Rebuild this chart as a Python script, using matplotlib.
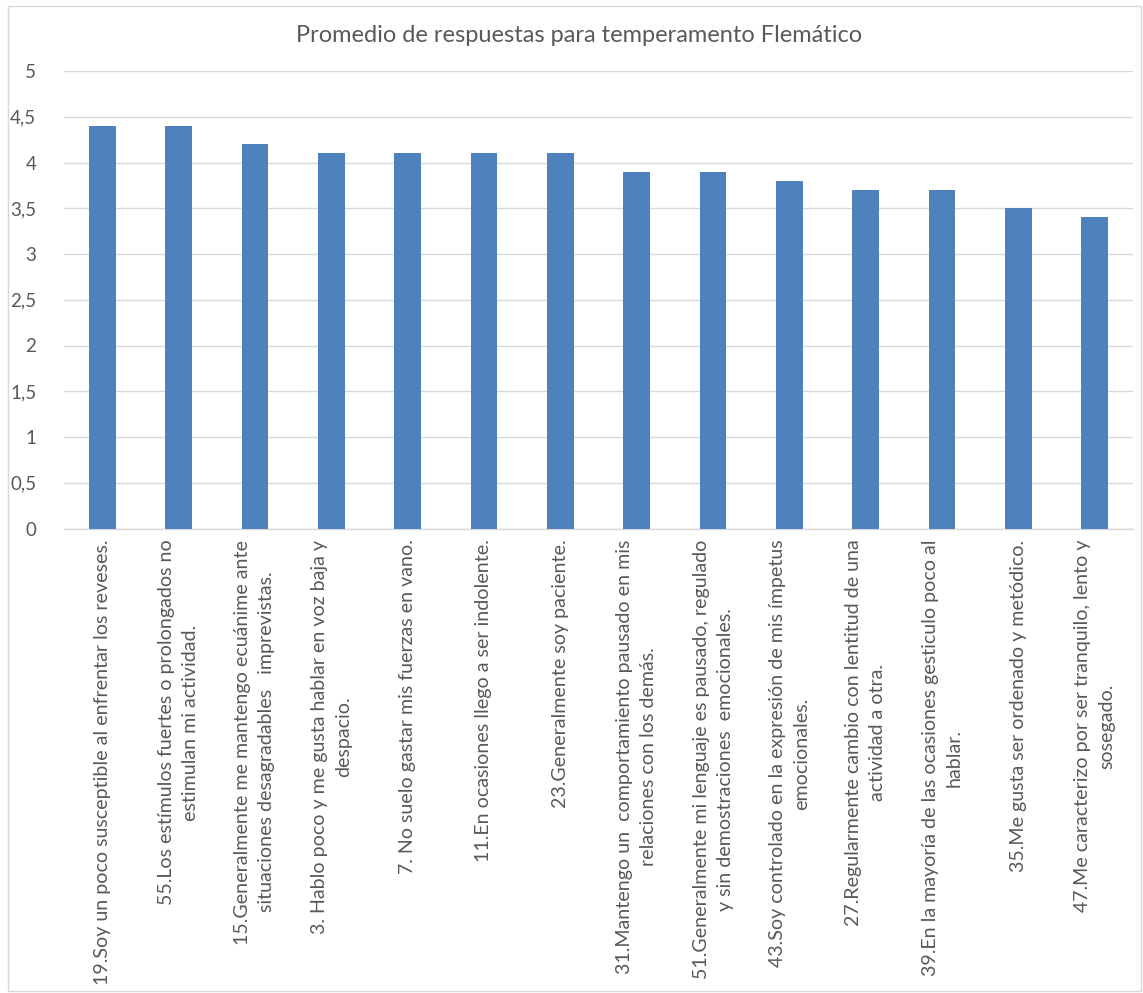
import matplotlib
matplotlib.use("Agg")
import matplotlib.pyplot as plt
from matplotlib.patches import Rectangle

categories = [
    "19.Soy un poco susceptible al enfrentar los reveses.",
    "55.Los estímulos fuertes o prolongados no\nestimulan mi actividad.",
    "15.Generalmente me mantengo ecuánime ante\nsituaciones desagradables   imprevistas.",
    "3. Hablo poco y me gusta hablar en voz baja y\ndespacio.",
    "7. No suelo gastar mis fuerzas en vano.",
    "11.En ocasiones llego a ser indolente.",
    "23.Generalmente soy paciente.",
    "31.Mantengo un  comportamiento pausado en mis\nrelaciones con los demás.",
    "51.Generalmente mi lenguaje es pausado, regulado\ny sin demostraciones  emocionales.",
    "43.Soy controlado en la expresión de mis ímpetus\nemocionales.",
    "27.Regularmente cambio con lentitud de una\nactividad a otra.",
    "39.En la mayoría de las ocasiones gesticulo poco al\nhablar.",
    "35.Me gusta ser ordenado y metódico.",
    "47.Me caracterizo por ser tranquilo, lento y\nsosegado.",
]
values = [4.4, 4.4, 4.2, 4.1, 4.1, 4.1, 4.1, 3.9, 3.9, 3.8, 3.7, 3.7, 3.5, 3.4]
yticks = [0, 0.5, 1, 1.5, 2, 2.5, 3, 3.5, 4, 4.5, 5]
ytick_labels = ["0", "0,5", "1", "1,5", "2", "2,5", "3", "3,5", "4", "4,5", "5"]
title = "Promedio de respuestas para temperamento Flemático"

plt.rcParams['font.family'] = ['Lato', 'DejaVu Sans']
text_color = "#595959"
grid_color = "#d9d9d9"
bar_color = "#4f81bd"

fig = plt.figure(figsize=(11.43, 9.93), dpi=100)
W, H = 1143, 993
ax = fig.add_axes([64 / W, 1 - 528.5 / H, (1133 - 64) / W, (528.5 - 71) / H])

x = list(range(len(categories)))
ax.bar(x, values, width=0.35, color=bar_color, zorder=3)
ax.set_xlim(-0.5, len(categories) - 0.5)
ax.set_ylim(0, 5)
ax.set_yticks(yticks)
ax.set_yticklabels(ytick_labels, fontsize=13.5, color=text_color)
ax.tick_params(axis='y', length=0, pad=20)
ax.tick_params(axis='x', length=0, pad=8)
ax.set_xticks(x)
ax.set_xticklabels(categories, rotation=90, ha='center', va='top',
                   multialignment='center', fontsize=14.1, color=text_color,
                   linespacing=1.5)
ax.grid(axis='y', color=grid_color, linewidth=1, zorder=0)
for s in ['top', 'right', 'left']:
    ax.spines[s].set_visible(False)
ax.spines['bottom'].set_color(grid_color)
ax.spines['bottom'].set_linewidth(1)

fig.text(579 / W, 1 - 35 / H, title, ha='center', va='center',
         fontsize=17, color=text_color)

fig.patches.append(Rectangle((8 / W, 2 / H), (W - 10) / W, (H - 8) / H,
                             transform=fig.transFigure, fill=False,
                             edgecolor=grid_color, linewidth=1))

fig.savefig("out.png", dpi=100, facecolor="white")
